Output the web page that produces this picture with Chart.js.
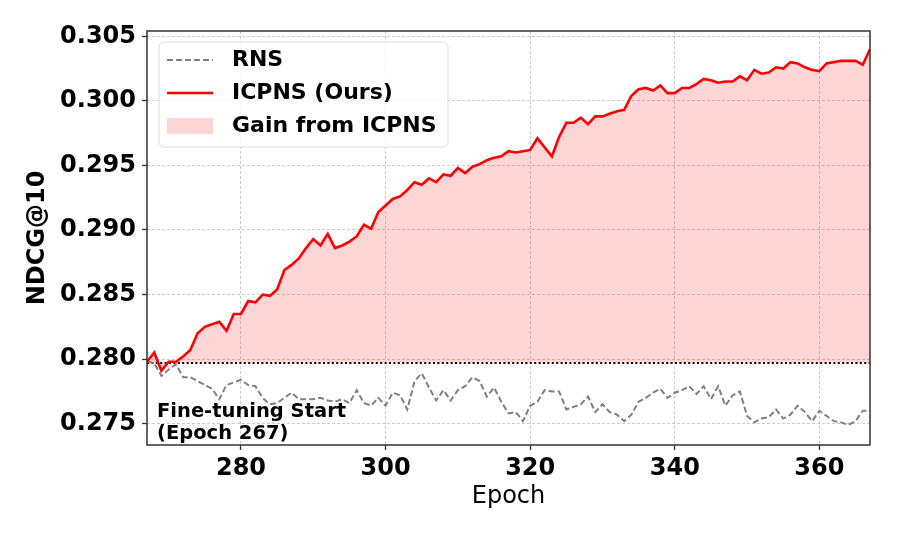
<!DOCTYPE html>
<html>
<head>
<meta charset="utf-8">
<script src="https://cdn.jsdelivr.net/npm/chart.js@4.4.1/dist/chart.umd.min.js"></script>
<style>
  html, body { margin: 0; padding: 0; background: #fff; }
  #wrap { width: 897px; height: 538px; }
</style>
</head>
<body>
<div id="wrap"><canvas id="chart" width="897" height="538"></canvas></div>
<script>
// エポック (x軸)
const epochs = [
  267, 268, 269, 270, 271, 272, 273, 274, 275, 276,
  277, 278, 279, 280, 281, 282, 283, 284, 285, 286,
  287, 288, 289, 290, 291, 292, 293, 294, 295, 296,
  297, 298, 299, 300, 301, 302, 303, 304, 305, 306,
  307, 308, 309, 310, 311, 312, 313, 314, 315, 316,
  317, 318, 319, 320, 321, 322, 323, 324, 325, 326,
  327, 328, 329, 330, 331, 332, 333, 334, 335, 336,
  337, 338, 339, 340, 341, 342, 343, 344, 345, 346,
  347, 348, 349, 350, 351, 352, 353, 354, 355, 356,
  357, 358, 359, 360, 361, 362, 363, 364, 365, 366,
  367
];

// ICPNS (Ours) の NDCG@10
const icpnsScores = [
  0.2798, 0.2805, 0.2791, 0.2798, 0.2798, 0.2802, 0.2807, 0.2820, 0.2825, 0.2827,
  0.2829, 0.2822, 0.2835, 0.2835, 0.2845, 0.2844, 0.2850, 0.2849, 0.2854, 0.2869,
  0.2873, 0.2878, 0.2886, 0.2893, 0.2888, 0.2897, 0.2886, 0.2888, 0.2891, 0.2895,
  0.2904, 0.2901, 0.2914, 0.2919, 0.2924, 0.2926, 0.2931, 0.2937, 0.2935, 0.2940,
  0.2937, 0.2943, 0.2942, 0.2948, 0.2944, 0.2949, 0.2951, 0.2954, 0.2956, 0.2957,
  0.2961, 0.2960, 0.2961, 0.2962, 0.2971, 0.2964, 0.2957, 0.2972, 0.2983, 0.2983,
  0.2987, 0.2982, 0.2988, 0.2988, 0.2990, 0.2992, 0.2993, 0.3004, 0.3009, 0.3010,
  0.3008, 0.3012, 0.3006, 0.3006, 0.3010, 0.3010, 0.3013, 0.3017, 0.3016, 0.3014,
  0.3015, 0.3015, 0.3019, 0.3016, 0.3024, 0.3021, 0.3022, 0.3026, 0.3025, 0.3030,
  0.3029, 0.3026, 0.3024, 0.3023, 0.3029, 0.3030, 0.3031, 0.3031, 0.3031, 0.3028,
  0.3040
];

// RNS の NDCG@10
const rnsScores = [
  0.2798, 0.2797, 0.2787, 0.2792, 0.2796, 0.2786, 0.2786, 0.2783, 0.2780, 0.2777,
  0.2769, 0.2780, 0.2782, 0.2784, 0.2780, 0.2779, 0.2770, 0.2765, 0.2766, 0.2770,
  0.2774, 0.2769, 0.2769, 0.2769, 0.2770, 0.2768, 0.2767, 0.2769, 0.2766, 0.2776,
  0.2766, 0.2764, 0.2770, 0.2764, 0.2774, 0.2772, 0.2761, 0.2783, 0.2789, 0.2778,
  0.2768, 0.2776, 0.2768, 0.2776, 0.2779, 0.2786, 0.2783, 0.2771, 0.2778, 0.2767,
  0.2758, 0.2759, 0.2752, 0.2764, 0.2767, 0.2776, 0.2775, 0.2775, 0.2761, 0.2763,
  0.2765, 0.2771, 0.2759, 0.2765, 0.2759, 0.2757, 0.2752, 0.2757, 0.2767, 0.2770,
  0.2774, 0.2777, 0.2770, 0.2774, 0.2776, 0.2779, 0.2773, 0.2779, 0.2769, 0.2779,
  0.2764, 0.2772, 0.2775, 0.2756, 0.2751, 0.2754, 0.2755, 0.2761, 0.2754, 0.2757,
  0.2764, 0.2759, 0.2752, 0.2760, 0.2756, 0.2752, 0.2751, 0.2749, 0.2752, 0.2760,
  0.2760
];

// 開始時点の値 (点線)
const startScore = 0.2797;

// 目盛り
const xTicks = [280, 300, 320, 340, 360];
const yTicks = [0.275, 0.280, 0.285, 0.290, 0.295, 0.300, 0.305];
const xRange = [267, 367];
const yRange = [0.27335, 0.30541];

const legendLabels = ['RNS', 'ICPNS (Ours)', 'Gain from ICPNS'];
const noteLines = ['Fine-tuning Start', '(Epoch 267)'];

const FONT = 'DejaVu Sans';

function toPoints(values) {
    return epochs.map((e, i) => ({ x: e, y: values[i] }));
}

// 枠線
const framePlugin = {
    id: 'frame',
    afterDatasetsDraw(chart) {
        const { ctx, chartArea: a } = chart;
        ctx.save();
        ctx.strokeStyle = '#333333';
        ctx.lineWidth = 1.5;
        ctx.strokeRect(a.left, a.top, a.right - a.left, a.bottom - a.top);
        ctx.restore();
    }
};

// 凡例と注記
const legendPlugin = {
    id: 'boxLegend',
    afterDraw(chart) {
        const { ctx, chartArea: a } = chart;
        const ds = chart.data.datasets;
        const x0 = a.left + 12;
        const y0 = a.top + 11;
        const w = 289, h = 105, r = 5;

        ctx.save();
        ctx.beginPath();
        ctx.moveTo(x0 + r, y0);
        ctx.arcTo(x0 + w, y0, x0 + w, y0 + h, r);
        ctx.arcTo(x0 + w, y0 + h, x0, y0 + h, r);
        ctx.arcTo(x0, y0 + h, x0, y0, r);
        ctx.arcTo(x0, y0, x0 + w, y0, r);
        ctx.closePath();
        ctx.fillStyle = 'rgba(255,255,255,0.8)';
        ctx.fill();
        ctx.strokeStyle = '#dcdcdc';
        ctx.lineWidth = 1;
        ctx.stroke();

        const hx = x0 + 8, hw = 46, tx = x0 + 73;
        const rows = [y0 + 18, y0 + 51, y0 + 84];

        // RNS
        ctx.beginPath();
        ctx.setLineDash(ds[1].borderDash);
        ctx.strokeStyle = ds[1].borderColor;
        ctx.lineWidth = ds[1].borderWidth;
        ctx.moveTo(hx, rows[0]);
        ctx.lineTo(hx + hw, rows[0]);
        ctx.stroke();
        ctx.setLineDash([]);

        // ICPNS
        ctx.beginPath();
        ctx.strokeStyle = ds[0].borderColor;
        ctx.lineWidth = ds[0].borderWidth;
        ctx.moveTo(hx, rows[1]);
        ctx.lineTo(hx + hw, rows[1]);
        ctx.stroke();

        // Gain
        ctx.fillStyle = ds[0].backgroundColor;
        ctx.fillRect(hx, rows[2] - 8, hw, 16);

        ctx.fillStyle = '#000';
        ctx.font = 'bold 22px "' + FONT + '"';
        ctx.textBaseline = 'middle';
        ctx.textAlign = 'left';
        legendLabels.forEach((t, i) => ctx.fillText(t, tx, rows[i]));

        // 注記
        ctx.font = 'bold 19.5px "' + FONT + '"';
        ctx.fillText(noteLines[0], a.left + 10, a.bottom - 33);
        ctx.fillText(noteLines[1], a.left + 10, a.bottom - 11);
        ctx.restore();
    }
};

const gridOpts = {
    color: 'rgba(170,170,170,0.75)',
    lineWidth: 0.8,
    tickLength: 5,
    tickColor: '#333333',
    tickWidth: 1.3
};

new Chart(document.getElementById('chart'), {
    type: 'line',
    data: {
        datasets: [
            {
                label: legendLabels[1],
                data: toPoints(icpnsScores),
                borderColor: '#ff0000',
                borderWidth: 2.6,
                backgroundColor: 'rgba(255,0,0,0.165)',
                fill: { value: startScore },
                pointRadius: 0,
                tension: 0,
                order: 1
            },
            {
                label: legendLabels[0],
                data: toPoints(rnsScores),
                borderColor: '#808080',
                borderWidth: 2,
                borderDash: [6, 3],
                fill: false,
                pointRadius: 0,
                tension: 0,
                order: 2
            },
            {
                label: 'start',
                data: [{ x: xRange[0], y: startScore }, { x: xRange[1], y: startScore }],
                borderColor: '#000000',
                borderWidth: 2,
                borderDash: [2, 2.4],
                fill: false,
                pointRadius: 0,
                order: 3
            }
        ]
    },
    options: {
        responsive: false,
        animation: false,
        devicePixelRatio: 1,
        layout: { padding: { top: 31, right: 27, bottom: 0, left: 0 } },
        plugins: {
            legend: { display: false },
            tooltip: { enabled: false }
        },
        scales: {
            x: {
                type: 'linear',
                min: xRange[0],
                max: xRange[1],
                afterBuildTicks: s => { s.ticks = xTicks.map(v => ({ value: v })); },
                afterFit: s => { s.height = 93; },
                grid: gridOpts,
                border: { display: false, dash: [3, 2] },
                ticks: {
                    color: '#000',
                    font: { family: FONT, size: 24, weight: 'bold' },
                    padding: 4,
                    maxRotation: 0,
                    callback: v => String(v)
                },
                title: {
                    display: true,
                    text: 'Epoch',
                    color: '#000',
                    font: { family: FONT, size: 24 },
                    padding: { top: 0, bottom: 27 }
                }
            },
            y: {
                type: 'linear',
                min: yRange[0],
                max: yRange[1],
                afterBuildTicks: s => { s.ticks = yTicks.map(v => ({ value: v })); },
                afterFit: s => { s.width = 147; },
                grid: gridOpts,
                border: { display: false, dash: [3, 2] },
                ticks: {
                    color: '#000',
                    font: { family: FONT, size: 24, weight: 'bold' },
                    padding: 6,
                    callback: v => v.toFixed(3)
                },
                title: {
                    display: true,
                    text: 'NDCG@10',
                    color: '#000',
                    font: { family: FONT, size: 24, weight: 'bold' },
                    padding: { top: 23, bottom: 0 }
                }
            }
        }
    },
    plugins: [framePlugin, legendPlugin]
});
</script>
</body>
</html>
